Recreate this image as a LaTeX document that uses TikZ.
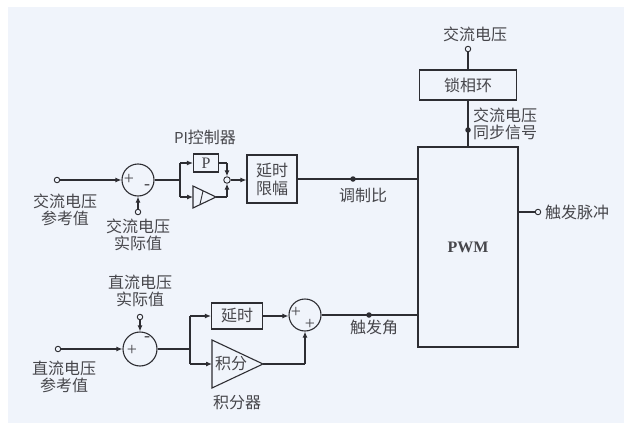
\documentclass[tikz,border=0pt]{standalone}
\usepackage{fontspec}
\newfontfamily\cjk{Noto Sans CJK SC}
\setmainfont{Liberation Serif}
\usetikzlibrary{arrows.meta}
\definecolor{bg}{RGB}{240,244,251}
\definecolor{ink}{RGB}{45,45,50}
\definecolor{tx}{RGB}{70,70,75}
\tikzset{
  ln/.style={draw=ink, line width=1.1pt},
  arr/.style={ln, -{Latex[length=6pt,width=5pt]}},
  blk/.style={draw=ink, line width=1.1pt, rectangle, inner sep=0pt, font=\cjk\fontsize{16}{18}\selectfont, text=tx},
  summ/.style={draw=ink, line width=1.1pt, circle, minimum size=32pt, inner sep=0pt},
  term/.style={draw=ink, line width=0.9pt, circle, fill=bg, minimum size=5.5pt, inner sep=0pt},
  dotn/.style={circle, fill=ink, minimum size=5.5pt, inner sep=0pt},
  lbl/.style={font=\cjk\fontsize{16}{17}\selectfont, text=tx, align=center, inner sep=0pt},
  sgn/.style={font=\fontsize{18}{18}\selectfont, text=tx, inner sep=0pt},
}
\begin{document}
\begin{tikzpicture}[x=1pt,y=-1pt]
\fill[white] (0,0) rectangle (624,423);
\fill[bg] (8,7) rectangle (624,423);
\useasboundingbox (0,0) rectangle (624,423);

% ---------- AC row ----------
\node[term] (in1) at (57,180) {};
\node[lbl] (in1l) at (65,210) {交流电压\\参考值};
\node[summ] (s1) at (138,180) {};
\node[sgn] (s1p) at (129,179) {+};
\node[sgn] (s1m) at (147,187) {-};
\node[term] (act1) at (138,212) {};
\node[lbl] (act1l) at (138,235) {交流电压\\实际值};
\coordinate (b1) at (180,180);
\coordinate (b1u) at (180,163);
\coordinate (b1d) at (180,197);
\node[blk, minimum width=25pt, minimum height=18pt, font=\fontsize{16}{16}\selectfont] (P) at (206,163) {P};
\coordinate (i1l) at (193,197);
\coordinate (i1a) at (216,197);
\draw[ln] (193,186) -- (216,197) -- (193,208) -- cycle;
\draw[ln, line width=0.9pt] (200,204) -- (203,191);
\node[lbl] (pil) at (205,137) {{\fontsize{15}{15}\selectfont PI}控制器};
\node[draw=ink, line width=0.9pt, circle, fill=bg, minimum size=6.5pt, inner sep=0pt] (j1) at (227,180) {};
\coordinate (pu) at (227,163);
\coordinate (pd) at (227,197);
\node[blk, minimum width=50pt, minimum height=48pt, align=center] (lim) at (272,179) {延时\\限幅};

\draw[arr] (in1) -- (s1);
\draw[arr] (act1) -- (s1);
\draw[ln] (s1) -- (b1);
\draw[ln] (b1u) -- (b1d);
\draw[arr] (b1u) -- (P.west);
\draw[arr] (b1d) -- (i1l);
\draw[ln] (P.east) -- (pu);
\draw[arr] (pu) -- (j1.north);
\draw[ln] (i1a) -- (pd);
\draw[arr] (pd) -- (j1.south);
\draw[arr] (j1) -- (lim.west |- j1);

% ---------- PWM ----------
\node[blk, minimum width=100pt, minimum height=200pt, font=\fontsize{16}{16}\selectfont\bfseries] (pwm) at (468,247) {PWM};
\node[dotn] (d1) at (353,179) {};
\node[lbl] (d1l) at (363,195) {调制比};
\draw[ln] (lim.east) -- (lim.east -| pwm.west);

\node[blk, minimum width=97pt, minimum height=30pt] (pll) at (468,85) {锁相环};
\node[term] (ac) at (468,49) {};
\node[lbl] (acl) at (475,34) {交流电压};
\node[dotn] (d2) at (468,130) {};
\node[lbl, anchor=west] (syncl) at (473,124) {交流电压\\同步信号};
\draw[ln] (ac) -- (pll.north);
\draw[ln] (pll.south) -- (pll.south |- pwm.north);

\node[term] (out) at (538,212) {};
\node[lbl, anchor=west] (outl) at (545,212) {触发脉冲};
\draw[ln] (pwm.east |- out) -- (out);

% ---------- DC row ----------
\node[term] (in2) at (58,349) {};
\node[lbl] (in2l) at (64,377) {直流电压\\参考值};
\node[summ, minimum size=34pt] (s2) at (140,349) {};
\node[sgn] (s2p) at (132,350) {+};
\node[sgn] (s2m) at (147,339) {-};
\node[term] (act2) at (140,317) {};
\node[lbl] (act2l) at (140,291) {直流电压\\实际值};
\coordinate (b2) at (190,349);
\coordinate (b2u) at (190,316);
\coordinate (b2d) at (190,364);
\node[blk, minimum width=51pt, minimum height=26pt] (dly) at (237,316) {延时};
\coordinate (i2l) at (212,364);
\coordinate (i2a) at (263,364);
\draw[ln] (212,340) -- (263,364) -- (212,388) -- cycle;
\node[lbl] (intt) at (231,364) {积分};
\node[lbl] (intl) at (237,403) {积分器};
\node[summ] (s3) at (305,315) {};
\node[sgn] (s3p) at (296,312) {+};
\node[sgn] (s3q) at (310,324) {+};
\coordinate (i2c) at (305,364);
\node[dotn] (d3) at (369,315) {};
\node[lbl] (d3l) at (374,327) {触发角};

\draw[arr] (in2) -- (s2);
\draw[arr] (act2) -- (s2);
\draw[ln] (s2) -- (b2);
\draw[ln] (b2u) -- (b2d);
\draw[arr] (b2u) -- (dly.west);
\draw[arr] (b2d) -- (i2l);
\draw[arr] (dly.east) -- (s3.west |- dly.east);
\draw[ln] (i2a) -- (i2c);
\draw[arr] (i2c) -- (s3.south);
\draw[ln] (s3.east) -- (s3.east -| pwm.west);
\end{tikzpicture}
\end{document}
